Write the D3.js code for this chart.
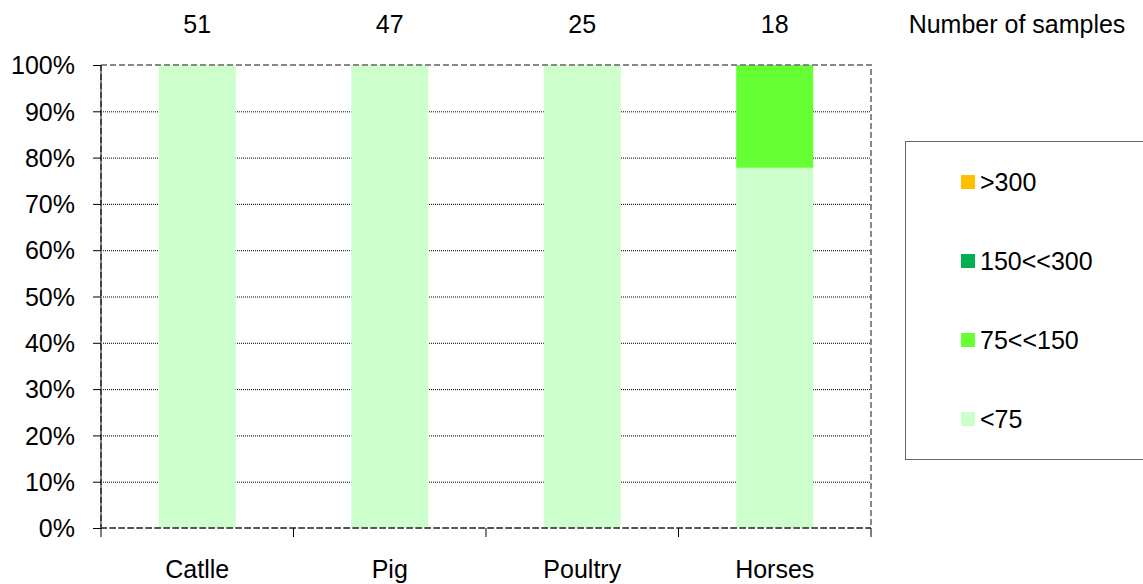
<!DOCTYPE html>
<html><head><meta charset="utf-8">
<script src="https://cdn.jsdelivr.net/npm/d3@7"></script>
<style>body{margin:0;background:#fff}svg{display:block}text{font-family:"Liberation Sans",Arial,sans-serif;fill:#000}</style>
</head><body><svg id="c" width="1143" height="584"></svg>
<script>
const categories = ["Catlle","Pig","Poultry","Horses"];
const sampleCounts = [51,47,25,18];
const seriesNames = [">300","150<<300","75<<150","<75"];
const seriesColors = ["#FFC000","#00B050","#66FF33","#CCFFCC"];
// percentage share per category, stacked bottom-up: <75, 75<<150, 150<<300, >300
const lt75 = [100,100,100,77.8];
const r75_150 = [0,0,0,22.2];
const r150_300 = [0,0,0,0];
const gt300 = [0,0,0,0];
const yTicks = [0,10,20,30,40,50,60,70,80,90,100];

const FS = "25px";
const svg = d3.select("#c");
const L=101,R=871,T=65,B=528;
const x = d3.scaleBand().domain(categories).range([L,R]).paddingInner(0).paddingOuter(0);
const y = d3.scaleLinear().domain([0,100]).range([B,T]);

// gridlines
svg.append("g").selectAll("line").data(yTicks.filter(d=>d>0&&d<100)).join("line")
  .attr("x1",L).attr("x2",R).attr("y1",d=>y(d)+0.5).attr("y2",d=>y(d)+0.5)
  .attr("stroke","#000").attr("stroke-width",1).attr("stroke-dasharray","1,1");

const layers = [
  {name:"<75",color:seriesColors[3]},
  {name:"75<<150",color:seriesColors[2]},
  {name:"150<<300",color:seriesColors[1]},
  {name:">300",color:seriesColors[0]}
];
const rows = categories.map((c,i)=>({cat:c,"<75":lt75[i],"75<<150":r75_150[i],"150<<300":r150_300[i],">300":gt300[i]}));
const stack = d3.stack().keys(layers.map(l=>l.name))(rows);
const bw = x.bandwidth()*0.4;
stack.forEach((s,si)=>{
  svg.append("g").selectAll("rect").data(s).join("rect")
    .attr("x",d=>x(d.data.cat)+(x.bandwidth()-bw)/2)
    .attr("width",bw)
    .attr("y",d=>y(d[1]))
    .attr("height",d=>y(d[0])-y(d[1]))
    .attr("fill",layers[si].color);
});

// plot border dashed gray
svg.append("rect").attr("x",L).attr("y",T).attr("width",R-L).attr("height",B-T)
  .attr("fill","none").attr("stroke","#888").attr("stroke-width",2).attr("stroke-dasharray","6,3");
svg.append("line").attr("x1",L).attr("x2",L).attr("y1",T).attr("y2",B)
  .attr("stroke","#444").attr("stroke-width",2).attr("stroke-dasharray","6,3");
svg.append("line").attr("x1",L).attr("x2",R).attr("y1",B).attr("y2",B)
  .attr("stroke","#555").attr("stroke-width",2).attr("stroke-dasharray","6,3");

// y axis
const yAxis = d3.axisLeft(y).tickValues(yTicks).tickFormat(d=>d+"%").tickSize(8).tickPadding(18);
const ya = svg.append("g").attr("transform",`translate(${L},0)`).call(yAxis);
ya.select(".domain").remove();
ya.selectAll("line").attr("stroke","#000");
ya.selectAll("text").style("font-size",FS).attr("fill","#000").attr("dy","0.35em");

// x axis
const xa = svg.append("g").attr("transform",`translate(0,${B})`)
  .call(d3.axisBottom(x).tickSize(0).tickPadding(0));
xa.select(".domain").remove();
xa.selectAll("text").style("font-size",FS).attr("fill","#000").attr("y",50).attr("dy",0);
const bounds = categories.map(c=>x(c)).concat([R]);
svg.append("g").selectAll("line").data(bounds).join("line")
  .attr("x1",d=>d).attr("x2",d=>d).attr("y1",B).attr("y2",B+9)
  .attr("stroke","#000").attr("stroke-width",1);

// sample counts
svg.append("g").selectAll("text").data(sampleCounts).join("text")
  .attr("x",(d,i)=>x(categories[i])+x.bandwidth()/2).attr("y",33)
  .attr("text-anchor","middle").style("font-size",FS).text(d=>d);
svg.append("text").attr("x",1017).attr("y",33).attr("text-anchor","middle")
  .style("font-size",FS).text("Number of samples");

// legend
svg.append("rect").attr("x",905.5).attr("y",141.5).attr("width",250).attr("height",318)
  .attr("fill","#fff").attr("stroke","#666").attr("stroke-width",1);
const lg = svg.append("g").selectAll("g").data(seriesNames).join("g")
  .attr("transform",(d,i)=>`translate(961,${175+i*79})`);
lg.append("rect").attr("width",14).attr("height",14).attr("fill",(d,i)=>seriesColors[i]);
lg.append("text").attr("x",19).attr("y",7).attr("dy","0.35em").style("font-size",FS).text(d=>d);
</script></body></html>
